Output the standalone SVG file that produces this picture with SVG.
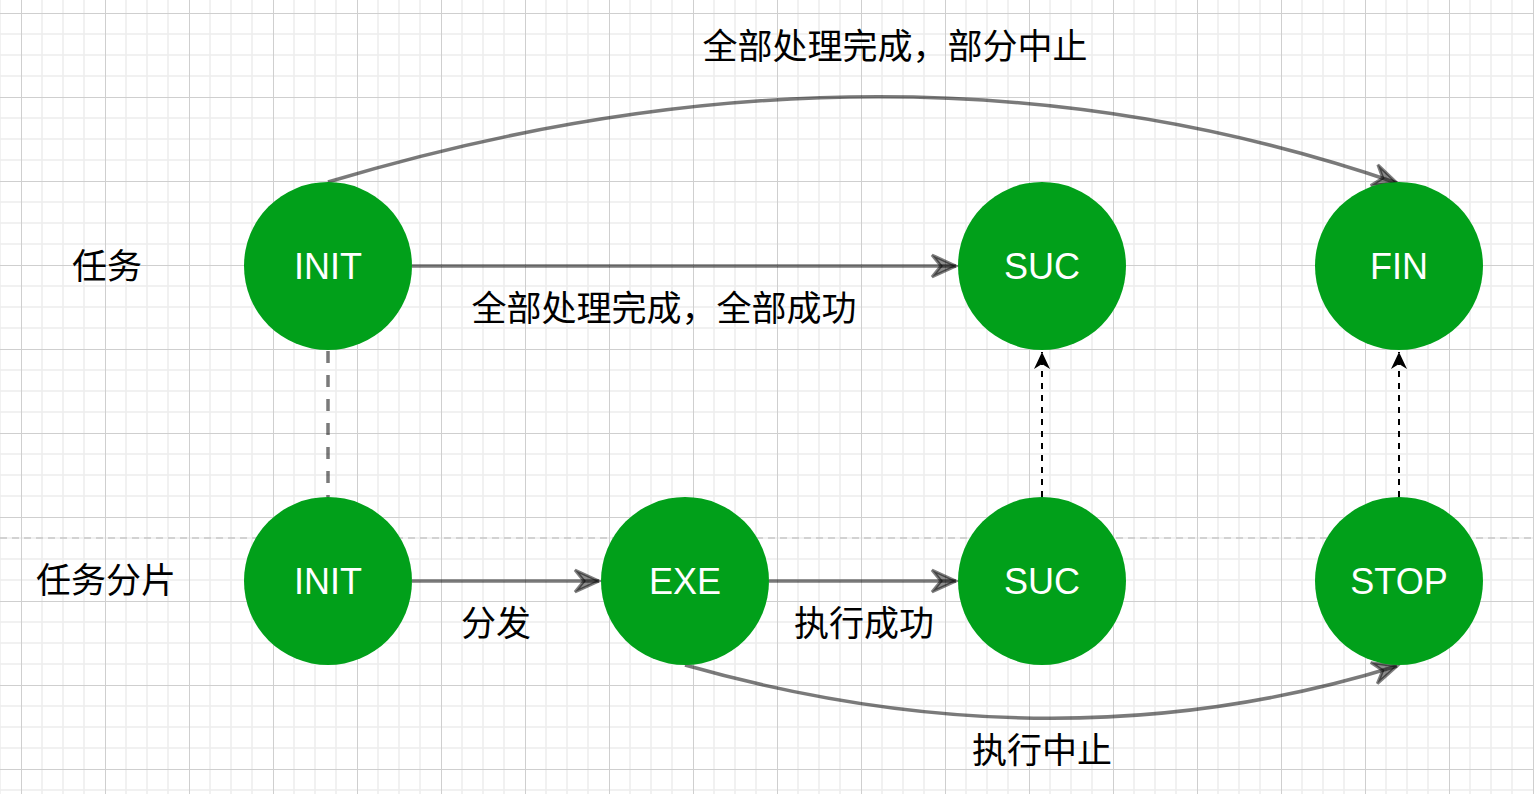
<svg xmlns="http://www.w3.org/2000/svg" width="1534" height="794" viewBox="0 0 1534 794">
<style>
.node{fill:#01a01a}
.nt{font-family:"Liberation Sans",Arial,sans-serif;font-size:36px;fill:#ffffff;text-anchor:middle}
.lbl{font-family:"Noto Sans CJK SC","Noto Sans",sans-serif;font-size:35px;fill:#000000;text-anchor:middle}
.gray{fill:none;stroke:#000;stroke-opacity:0.52;stroke-width:3.5}
.dot{fill:none;stroke:#000;stroke-width:2;stroke-dasharray:6 6}
</style>
<defs>
<pattern id="grid" patternUnits="userSpaceOnUse" x="21" y="13" width="84" height="84">
<path d="M21 0V84M42 0V84M63 0V84M0 21H84M0 42H84M0 63H84" stroke="#ededed" stroke-width="1.5" fill="none"/>
<path d="M0.5 0V84M0 0.5H84" stroke="#cfcfcf" stroke-width="1" fill="none"/>
</pattern>
<marker id="ga" markerUnits="userSpaceOnUse" markerWidth="32" markerHeight="32" viewBox="-28 -16 32 32" refX="0" refY="0" orient="auto">
<path d="M0 0L-24 -11L-15 0L-24 11Z" fill="#000" fill-opacity="0.45" stroke="#000" stroke-opacity="0.5" stroke-width="3" stroke-linejoin="miter"/>
</marker>
<marker id="ba" markerUnits="userSpaceOnUse" markerWidth="24" markerHeight="24" viewBox="-20 -12 24 24" refX="0" refY="0" orient="auto">
<path d="M0 0L-17 -8L-12 0L-17 8Z" fill="#000"/>
</marker>
</defs>
<rect width="1534" height="794" fill="#ffffff"/>
<rect width="1534" height="794" fill="url(#grid)"/>
<line x1="0" y1="538" x2="1534" y2="538" stroke="#b3b3b3" stroke-width="1" stroke-dasharray="7 5"/>
<g id="connectors">
<path class="gray" d="M328 182Q897 11 1397 183" marker-end="url(#ga)"/>
<path class="gray" d="M412 266H956" marker-end="url(#ga)"/>
<path class="gray" d="M328 351V497" stroke-dasharray="12 12" stroke-width="4"/>
<path class="dot" d="M1042 497V352" marker-end="url(#ba)"/>
<path class="dot" d="M1399 497V352" marker-end="url(#ba)"/>
<path class="gray" d="M412 581H599" marker-end="url(#ga)"/>
<path class="gray" d="M769 581H956" marker-end="url(#ga)"/>
<path class="gray" d="M685 665Q1059 771 1397 666" marker-end="url(#ga)"/>
</g>
<g id="labels">
<text class="lbl" x="895" y="59">全部处理完成，部分中止</text>
<text class="lbl" x="664" y="321">全部处理完成，全部成功</text>
<text class="lbl" x="107" y="279">任务</text>
<text class="lbl" x="106" y="593">任务分片</text>
<text class="lbl" x="496" y="636">分发</text>
<text class="lbl" x="864" y="636">执行成功</text>
<text class="lbl" x="1042" y="763">执行中止</text>
</g>
<g id="task-init"><circle class="node" cx="328" cy="266" r="84"/><text class="nt" x="328" y="279">INIT</text></g>
<g id="task-suc"><circle class="node" cx="1042" cy="266" r="84"/><text class="nt" x="1042" y="279">SUC</text></g>
<g id="task-fin"><circle class="node" cx="1399" cy="266" r="84"/><text class="nt" x="1399" y="279">FIN</text></g>
<g id="shard-init"><circle class="node" cx="328" cy="581" r="84"/><text class="nt" x="328" y="594">INIT</text></g>
<g id="shard-exe"><circle class="node" cx="685" cy="581" r="84"/><text class="nt" x="685" y="594">EXE</text></g>
<g id="shard-suc"><circle class="node" cx="1042" cy="581" r="84"/><text class="nt" x="1042" y="594">SUC</text></g>
<g id="shard-stop"><circle class="node" cx="1399" cy="581" r="84"/><text class="nt" x="1399" y="594">STOP</text></g>
</svg>
